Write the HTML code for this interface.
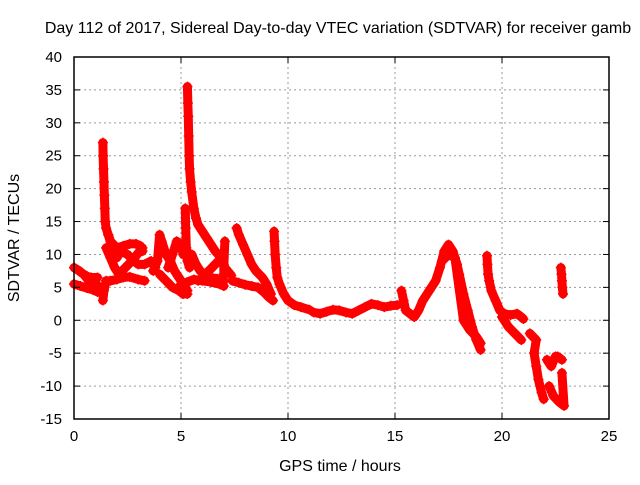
<!DOCTYPE html>
<html><head><meta charset="utf-8"><style>
body{margin:0;background:#fff;}
svg{font-family:"Liberation Sans",sans-serif;}
</style></head><body>
<svg id="chart" width="640" height="480" viewBox="0 0 640 480">
<text x="338" y="33" font-size="16" text-anchor="middle">Day 112 of 2017, Sidereal Day-to-day VTEC variation (SDTVAR) for receiver gamb</text>
<text x="340" y="471" font-size="16" text-anchor="middle">GPS time / hours</text>
<text transform="translate(19,238) rotate(-90)" font-size="16" text-anchor="middle">SDTVAR / TECUs</text>
<g id="grid"></g><g id="marks"></g><g id="axes"></g>
</svg>
<script>
const xTicks=[0,5,10,15,20,25];
const yTicks=[40,35,30,25,20,15,10,5,0,-5,-10,-15];
const track1=[[0,8],[0.2,7.6],[0.4,7.1],[0.6,6.7],[0.8,6.3],[1.0,5.8],[1.1,5.2]];
const track2=[[0,5.5],[0.3,5.2],[0.6,4.9],[0.9,4.6],[1.1,4.3],[0.5,6.8],[0.8,6.5],[1.1,6.5]];
const spike1=[[1.35,27],[1.36,25],[1.38,23],[1.4,21],[1.42,19],[1.44,17],[1.46,15],[1.5,14],[1.6,13],[1.7,12],[1.85,11.5],[2.0,11],[2.3,11.3],[2.6,11.6],[2.9,11.6],[3.1,11.3],[3.2,10.5]];
const lower1=[[1.35,3],[1.4,4.5],[1.5,6],[1.7,6],[2.0,6.2],[2.3,6.5],[2.6,6.6],[3.0,6.2],[3.3,6.0]];
const cross1=[[1.5,11],[1.7,9.5],[1.9,8],[2.1,7],[2.4,8],[2.7,9],[3.0,10.2],[3.2,11]];
const cross2=[[1.6,13],[1.8,11],[2.0,9.5],[2.2,10.5],[2.5,10],[2.8,9],[3.0,8.5],[3.3,8.5],[3.6,9],[3.8,8]];
const seg4=[[3.7,7.5],[3.9,9],[4.0,13],[4.1,12],[4.3,10],[4.5,9],[4.7,7.5],[4.9,6.5],[5.1,5.5],[5.3,4.5]];
const seg4b=[[4.0,7],[4.3,6],[4.6,5],[4.9,4.5],[5.1,4],[5.3,4]];
const seg4c=[[4.4,8],[4.6,10],[4.8,12],[5.0,11.5],[5.1,10]];
const spike2=[[5.3,35.5],[5.32,33],[5.34,31],[5.36,28],[5.38,25],[5.4,23],[5.45,21],[5.5,19.5],[5.6,17],[5.7,15.5],[5.8,14.5],[6.0,13.5],[6.2,12.5],[6.4,11.5],[6.6,10.5],[6.8,9.8],[6.95,9.5],[7.0,8.5],[7.0,7]];
const spike2b=[[5.2,17],[5.22,14],[5.25,11],[5.3,9],[5.4,8],[5.5,10],[5.7,8.5],[5.9,7.5],[6.1,7],[6.4,6.5],[6.7,6.3],[7.0,6]];
const low5=[[5.0,5.5],[5.3,5.8],[5.6,6.2],[6.0,6],[6.4,5.8],[6.8,5.5],[7.0,5.2]];
const rise5=[[5.8,6],[6.0,6.5],[6.3,7.5],[6.6,8.5],[6.9,9.5]];
const dot7=[[7.05,12],[7.0,8.2],[7.35,6.8]];
const seg7=[[7.6,14],[7.7,13],[7.9,11.5],[8.1,10],[8.3,8.5],[8.5,7.5],[8.8,6.5],[9.0,5.5],[9.2,4]];
const seg7b=[[7.4,6],[7.7,5.7],[8.0,5.4],[8.3,5.2],[8.6,5],[8.9,4.2],[9.1,3.5],[9.3,3]];
const spike3=[[9.35,13.5],[9.37,12],[9.4,10],[9.45,8],[9.5,6.5],[9.6,5.5],[9.8,4],[10.0,3],[10.3,2.3],[10.6,2],[11.0,1.6]];
const flat=[[11.2,1.2],[11.5,1],[11.8,1.3],[12.1,1.6],[12.4,1.5],[12.7,1.2],[13.0,1.0],[13.3,1.5],[13.6,2],[13.9,2.5],[14.2,2.3],[14.5,2.0],[14.8,2.2],[15.1,2.3]];
const rise6=[[15.3,4.5],[15.4,3],[15.5,1.5],[15.7,1],[15.9,0.5],[16.1,1.5],[16.3,3],[16.6,4.5],[16.9,6],[17.1,8],[17.3,10.5],[17.5,11.5],[17.7,10.5],[17.9,8.5],[18.0,7],[18.2,4],[18.4,1.5],[18.6,-1],[18.8,-3],[19.0,-4.5]];
const side6=[[17.2,9],[17.5,10],[17.8,9.5],[18.2,0],[18.5,-1.5],[18.8,-2.5],[19.0,-3.5]];
const spike4=[[19.3,9.8],[19.32,8.5],[19.35,7],[19.4,6],[19.5,4.5],[19.7,3],[19.9,1.5],[20.1,1],[20.4,0.8],[20.7,1],[20.9,0.5],[21.0,0.2]];
const side7=[[20.0,0.5],[20.3,-1],[20.6,-2],[20.9,-3]];
const tail1=[[21.3,-2],[21.6,-3],[21.5,-5],[21.6,-7],[21.7,-9],[21.85,-11],[21.95,-12]];
const tail2=[[22.1,-6],[22.3,-7],[22.5,-5.5],[22.6,-5.5],[22.8,-6]];
const tail3=[[22.2,-10],[22.4,-11.5],[22.7,-12.5],[22.9,-13],[22.8,-8]];
const tail4=[[22.75,8],[22.78,7],[22.8,6],[22.82,5],[22.85,4]];
const series=[track1,track2,spike1,lower1,cross1,cross2,seg4,seg4b,seg4c,spike2,spike2b,low5,rise5,dot7,seg7,seg7b,spike3,flat,rise6,side6,spike4,side7,tail1,tail2,tail3,tail4];

const L=74,R=609,T=57,B=419;
const xs=v=>L+(v-0)/(25-0)*(R-L);
const ys=v=>T+(40-v)/(40+15)*(B-T);
const NS='http://www.w3.org/2000/svg';
function mk(tag,parent,attrs){const e=document.createElementNS(NS,tag);for(const k in attrs)e.setAttribute(k,attrs[k]);parent.appendChild(e);return e;}
const grid=document.getElementById('grid'),axes=document.getElementById('axes'),marks=document.getElementById('marks');
xTicks.forEach(t=>{const x=xs(t);
 if(t>0&&t<25){const g=mk('line',grid,{x1:x,x2:x,y1:T,y2:B,stroke:'#999','stroke-dasharray':'2,3','stroke-width':1});
 
 }
 mk('line',axes,{x1:x,x2:x,y1:B,y2:B-6,stroke:'#000'});mk('line',axes,{x1:x,x2:x,y1:T,y2:T+6,stroke:'#000'});
 const tx=mk('text',axes,{x:x,y:B+22,'font-size':15,'text-anchor':'middle'});tx.textContent=t;
 
 });
yTicks.forEach(t=>{const y=ys(t);
 if(t<40&&t>-15){const g=mk('line',grid,{x1:L,x2:R,y1:y,y2:y,stroke:'#999','stroke-dasharray':'2,3','stroke-width':1});
 
 }
 mk('line',axes,{x1:L,x2:L+6,y1:y,y2:y,stroke:'#000'});mk('line',axes,{x1:R,x2:R-6,y1:y,y2:y,stroke:'#000'});
 const tx=mk('text',axes,{x:L-12,y:y+5,'font-size':15,'text-anchor':'end'});tx.textContent=t;
 
 });
const fr=mk('rect',axes,{x:L,y:T,width:R-L,height:B-T,fill:'none',stroke:'#000','stroke-width':1.5});


series.forEach(s=>{
 const pl=mk('polyline',marks,{points:s.map(p=>xs(p[0])+','+ys(p[1])).join(' '),fill:'none',stroke:'#f00','stroke-width':9,'stroke-linejoin':'round','stroke-linecap':'round'});
 
 
 s.forEach(p=>{const x=xs(p[0]),y=ys(p[1]);
  const m=mk('path',marks,{d:`M${x-5},${y}H${x+5}M${x},${y-5}V${y+5}`,stroke:'#f00','stroke-width':1.5});
  
  });
});
</script>
</body></html>
